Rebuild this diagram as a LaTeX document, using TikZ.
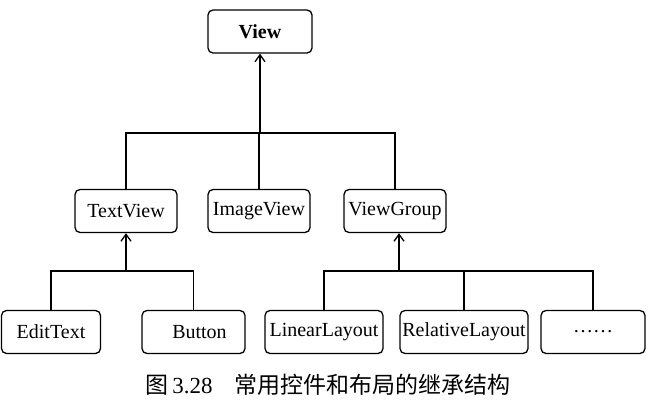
\documentclass[tikz,border=0pt]{standalone}
\usepackage{fontspec}
\setmainfont{Liberation Serif}
\newfontfamily\cjk{Noto Sans CJK SC}
\usetikzlibrary{arrows.meta}
\begin{document}
\begin{tikzpicture}[x=1pt,y=1pt,
  box/.style={draw, line width=1.3pt, rounded corners=5pt, minimum height=43pt,
    inner sep=1pt, font=\fontsize{20}{23}\selectfont, anchor=center},
  link/.style={line width=1.3pt},
  arr/.style={line width=1.3pt, -{Straight Barb[length=7pt,width=10pt,line width=1.3pt]}}]
\useasboundingbox (0,0) rectangle (650,-402);
% nodes
\node[box, minimum width=104pt, font=\fontsize{20}{23}\selectfont\bfseries] (view) at (260,-31.5) {View};
\node[box, minimum width=102pt] (tv) at (126,-211) {TextView};
\node[box, minimum width=102pt] (iv) at (259,-211) {ImageView};
\node[box, minimum width=102pt] (vg) at (395,-211) {ViewGroup};
\node[box, minimum width=99pt] (et) at (51,-332) {EditText};
\node[box, minimum width=103pt] (bt) at (193.5,-332) {\hspace{12pt}Button};
\node[box, minimum width=118pt] (ll) at (324,-332) {LinearLayout};
\node[box, minimum width=128pt] (rl) at (464,-332) {RelativeLayout};
\node[box, minimum width=104pt] (dots) at (593,-332) {……};
% junctions
\coordinate (j0) at (260,-133);
\coordinate (j1) at (126,-271);
\coordinate (j2) at (399,-271);
% top level
\draw[arr] (j0) -- (view.south);
\draw[link] (tv.north) -- (tv.north |- j0) -- (vg.north |- j0) -- (vg.north);
\draw[link] (iv.north) -- (iv.north |- j0);
% TextView children
\draw[arr] (j1) -- (tv.south);
\draw[link] (et.north) -- (et.north |- j1) -- (bt.north |- j1) -- (bt.north);
% ViewGroup children
\draw[arr] (j2) -- (j2 |- vg.south);
\draw[link] (ll.north) -- (ll.north |- j2) -- (dots.north |- j2) -- (dots.north);
\draw[link] (rl.north) -- (rl.north |- j2);
% caption
\node[font=\fontsize{23}{27}\selectfont, anchor=center] (cap) at (328,-385)
  {{\cjk 图}\,3.28\hspace{22pt}{\cjk 常用控件和布局的继承结构}};
\end{tikzpicture}
\end{document}
